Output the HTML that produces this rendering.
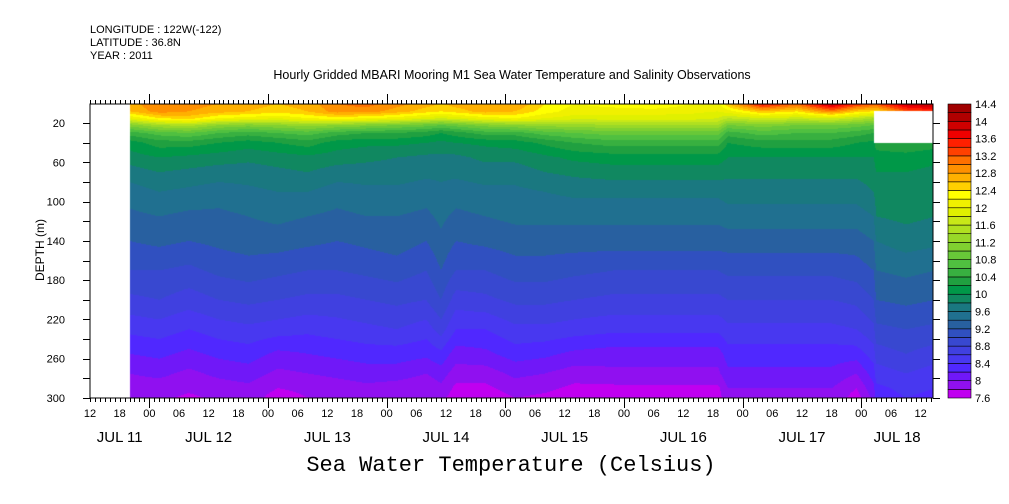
<!DOCTYPE html>
<html><head><meta charset="utf-8">
<style>
body{margin:0;background:#fff;width:1009px;height:504px;overflow:hidden;position:relative;font-family:"Liberation Sans",sans-serif;}
.t{position:absolute;white-space:nowrap;color:#000;}
</style></head><body>
<div class="t" style="left:90px;top:24px;font-size:11px;">LONGITUDE : 122W(-122)</div>
<div class="t" style="left:90px;top:37px;font-size:11px;">LATITUDE : 36.8N</div>
<div class="t" style="left:90px;top:50px;font-size:11px;">YEAR : 2011</div>
<div class="t" style="left:512px;top:68px;font-size:12.5px;transform:translateX(-50%);">Hourly Gridded MBARI Mooring M1 Sea Water Temperature and Salinity Observations</div>
<div class="t" style="left:511px;top:453px;font-size:22px;font-family:'Liberation Mono',monospace;transform:translateX(-50%);">Sea Water Temperature (Celsius)</div>
<div class="t" style="left:40px;top:250px;font-size:12px;transform:translate(-50%,-50%) rotate(-90deg);">DEPTH (m)</div>
<canvas id="cv" width="843" height="294" style="position:absolute;left:90px;top:104px;"></canvas>
<svg id="sv" width="1009" height="504" style="position:absolute;left:0;top:0;"></svg>
<script>
const levelsMin = 7.6, levelStep = 0.2;
const bandColors = ["#c000f0","#9010f0","#7018f8","#5028ff","#4838f0","#4040e0","#3848d0","#3050c0","#2860a0","#207090","#1a7880","#108860","#009848","#20a040","#38b040","#50c040","#68c838","#80d030","#98d828","#b0e020","#c8e818","#e0f000","#f0f000","#ffff00","#ffd000","#ffb000","#ff9000","#ff7000","#ff4000","#ff2000","#f00000","#d00000","#b00000","#a00000"];
const cbarLabels = ["7.6","8","8.4","8.8","9.2","9.6","10","10.4","10.8","11.2","11.6","12","12.4","12.8","13.2","13.6","14","14.4"];
const depths = [0,8,15,22,30,40,55,70,90,115,140,170,200,230,255,275,290,300];
const hours = [20,26,32,38,44,50,56,62,68,74,80,83,86,92,98,104,110,118,126,134,139,141,148,155,162,167,170.5,171,177,183];
const N = NaN;
const temps = [
[12.7,12.6,12.0,11.1,10.5,10.1,9.9,9.7,9.5,9.35,9.2,9.0,8.75,8.45,8.2,8.0,7.9,7.8],
[13.0,12.9,12.4,11.4,10.7,10.3,10.0,9.8,9.6,9.4,9.25,9.0,8.8,8.5,8.25,8.05,7.9,7.85],
[12.9,12.8,12.5,11.5,10.8,10.3,9.95,9.75,9.55,9.35,9.2,8.95,8.7,8.4,8.15,7.95,7.85,7.75],
[12.8,12.7,12.2,11.2,10.6,10.2,9.9,9.7,9.5,9.35,9.25,9.05,8.8,8.5,8.25,8.05,7.9,7.85],
[12.7,12.6,12.1,11.1,10.5,10.1,9.85,9.7,9.55,9.4,9.3,9.1,8.85,8.55,8.3,8.1,7.95,7.9],
[12.6,12.5,12.0,11.2,10.6,10.2,9.9,9.75,9.6,9.45,9.3,9.05,8.8,8.5,8.15,7.95,7.8,7.7],
[12.7,12.6,12.2,11.3,10.7,10.3,9.95,9.8,9.6,9.4,9.25,9.0,8.75,8.45,8.2,8.0,7.85,7.8],
[13.0,12.9,12.3,11.2,10.5,10.1,9.9,9.7,9.5,9.35,9.2,9.0,8.75,8.5,8.25,8.05,7.9,7.85],
[13.1,12.9,12.2,11.1,10.4,10.05,9.85,9.7,9.55,9.4,9.25,9.05,8.8,8.55,8.3,8.1,7.95,7.9],
[12.9,12.7,12.1,11.0,10.4,10.05,9.8,9.7,9.55,9.4,9.3,9.1,8.85,8.6,8.3,8.1,7.9,7.85],
[12.7,12.5,11.9,10.9,10.3,10.0,9.75,9.65,9.5,9.35,9.2,9.0,8.8,8.5,8.25,8.0,7.85,7.8],
[12.6,12.4,11.8,10.8,10.2,9.95,9.75,9.65,9.55,9.45,9.35,9.2,9.0,8.7,8.35,8.1,7.95,7.85],
[12.7,12.5,11.9,10.9,10.3,10.0,9.75,9.65,9.5,9.35,9.2,9.0,8.7,8.4,8.1,7.9,7.75,7.7],
[12.8,12.7,12.1,11.1,10.5,10.05,9.85,9.7,9.55,9.4,9.25,9.0,8.75,8.4,8.15,7.9,7.75,7.65],
[12.8,12.6,12.2,11.2,10.5,10.1,9.85,9.7,9.55,9.45,9.3,9.1,8.85,8.55,8.3,8.05,7.9,7.8],
[12.4,12.3,12.0,11.3,10.7,10.25,9.95,9.8,9.6,9.45,9.3,9.1,8.85,8.55,8.25,8.0,7.85,7.75],
[12.2,12.1,11.9,11.3,10.8,10.4,10.05,9.85,9.65,9.45,9.3,9.05,8.8,8.5,8.15,7.9,7.75,7.65],
[12.3,12.1,11.9,11.4,10.9,10.5,10.1,9.9,9.65,9.45,9.3,9.0,8.75,8.45,8.1,7.95,7.75,7.65],
[12.4,12.1,11.9,11.4,10.9,10.5,10.1,9.9,9.65,9.45,9.3,9.0,8.75,8.45,8.1,7.95,7.75,7.65],
[12.2,12.05,11.9,11.4,10.9,10.5,10.1,9.9,9.65,9.45,9.3,9.0,8.75,8.45,8.1,7.95,7.75,7.65],
[12.1,12.0,11.8,11.4,10.9,10.5,10.1,9.9,9.65,9.45,9.3,9.0,8.75,8.45,8.1,7.95,7.75,7.7],
[12.6,12.1,11.6,11.0,10.5,10.2,10.0,9.85,9.7,9.5,9.3,9.05,8.8,8.55,8.3,8.15,8.0,7.95],
[13.7,12.6,11.8,11.1,10.7,10.3,10.0,9.85,9.7,9.5,9.3,9.05,8.8,8.55,8.3,8.15,8.0,7.95],
[13.2,12.4,11.7,11.0,10.6,10.3,10.0,9.85,9.7,9.5,9.3,9.05,8.8,8.55,8.3,8.15,8.0,7.95],
[14.1,13.0,11.8,11.0,10.6,10.3,10.0,9.85,9.7,9.5,9.3,9.05,8.8,8.55,8.3,8.15,8.0,7.95],
[13.5,12.5,11.6,10.9,10.5,10.2,10.0,9.85,9.7,9.5,9.3,9.1,8.85,8.6,8.3,8.0,7.8,7.7],
[13.3,12.4,11.4,10.8,10.4,10.15,10.0,9.9,9.8,9.6,9.4,9.2,9.0,8.75,8.5,8.3,8.15,8.05],
[13.3,12.4,N,N,N,10.3,10.1,10.0,9.9,9.8,9.6,9.4,9.2,8.95,8.7,8.5,8.35,8.3],
[14.0,13.2,N,N,N,10.4,10.1,10.0,9.95,9.85,9.7,9.45,9.25,9.0,8.8,8.6,8.45,8.4],
[14.2,13.4,N,N,N,10.3,10.05,9.95,9.9,9.8,9.65,9.4,9.2,8.95,8.7,8.5,8.4,8.35]
];
const timeTickLabels = ["12","18","00","06","12","18","00","06","12","18","00","06","12","18","00","06","12","18","00","06","12","18","00","06","12","18","00","06","12"];
const dayLabels = ["JUL 11","JUL 12","JUL 13","JUL 14","JUL 15","JUL 16","JUL 17","JUL 18"];
const depthTicks = [20,60,100,140,180,220,260,300];

const PX0=90, PX1=933, PY0=104, PY1=398, H0=12, H1=182.5, D0=0.5, D1=300;
const xOf = h => PX0 + (h-H0)*(PX1-PX0)/(H1-H0);
const hOf = x => H0 + (x-PX0)*(H1-H0)/(PX1-PX0);
const yOf = d => PY0 + (d-D0)*(PY1-PY0)/(D1-D0);
const dOf = y => D0 + (y-PY0)*(D1-D0)/(PY1-PY0);

function hex(c){return [parseInt(c.substr(1,2),16),parseInt(c.substr(3,2),16),parseInt(c.substr(5,2),16)];}
const rgb = bandColors.map(hex);
function bracket(arr,v){for(let i=0;i<arr.length-1;i++){if(v<=arr[i+1])return i;}return arr.length-2;}

const cv=document.getElementById('cv'),ctx=cv.getContext('2d');
const W=cv.width,Hh=cv.height,img=ctx.createImageData(W,Hh);
for(let py=0;py<Hh;py++){
  const d=Math.max(depths[0],Math.min(D1,dOf(PY0+py+0.5)));
  const j=bracket(depths,d), fy=(d-depths[j])/(depths[j+1]-depths[j]);
  for(let px=0;px<W;px++){
    const h=hOf(PX0+px+0.5); let c=[255,255,255];
    if(h>=hours[0]){
      const hh=Math.min(h,hours[hours.length-1]);
      const i=bracket(hours,hh), fx=(hh-hours[i])/(hours[i+1]-hours[i]);
      const a=temps[i][j],b=temps[i+1][j],e=temps[i][j+1],f=temps[i+1][j+1];
      if(!(isNaN(a)||isNaN(b)||isNaN(e)||isNaN(f))){
        const t=(a*(1-fx)+b*fx)*(1-fy)+(e*(1-fx)+f*fx)*fy;
        let k=Math.floor((t-levelsMin)/levelStep); k=Math.max(0,Math.min(rgb.length-1,k)); c=rgb[k];
      }
    }
    const o=(py*W+px)*4; img.data[o]=c[0];img.data[o+1]=c[1];img.data[o+2]=c[2];img.data[o+3]=255;
  }
}
ctx.putImageData(img,0,0);

const sv=document.getElementById('sv'),NS='http://www.w3.org/2000/svg';
function mk(tag,at,name){const e=document.createElementNS(NS,tag);for(const k in at)e.setAttribute(k,at[k]);


sv.appendChild(e);return e;}
function txt(x,y,s,size,anchor,name){const e=mk('text',{x:x,y:y,'font-size':size,'text-anchor':anchor,'font-family':'Liberation Sans, sans-serif',fill:'#000'},name);e.textContent=s;return e;}
mk('rect',{x:PX0,y:PY0,width:PX1-PX0,height:PY1-PY0,fill:'none',stroke:'#000','stroke-width':1},'plot-frame');
let p='';
for(let h=12;h<=182;h++){const x=Math.round(xOf(h))+0.5;const big=(h%24===0);const L=big?10:4;
  p+=`M${x},${PY0}v${-L}M${x},${PY1}v${L}`;}
for(let d=20;d<=300;d+=20){const y=Math.round(yOf(d))+0.5;p+=`M${PX0},${y}h-7M${PX1},${y}h7`;}
mk('path',{d:p,stroke:'#000','stroke-width':1,fill:'none'},'axis-ticks');
timeTickLabels.forEach((s,i)=>{txt(xOf(12+6*i),417,s,11,'middle','time-tick-label');});
dayLabels.forEach((s,i)=>{const a=Math.max(xOf(24*i),PX0),b=Math.min(xOf(24*(i+1)),PX1);txt((a+b)/2,442,s,15,'middle','day-label');});
depthTicks.forEach(d=>{txt(65,yOf(d)+4,String(d),11,'end','depth-tick-label');});
const CX0=948,CX1=971,CY0=104,CY1=398,bh=(CY1-CY0)/bandColors.length;
bandColors.forEach((c,k)=>{mk('rect',{x:CX0,y:CY1-(k+1)*bh,width:CX1-CX0,height:bh,fill:c,stroke:'#000','stroke-width':0.6},'colorbar-band');});
cbarLabels.forEach((s,i)=>{txt(975,CY1-i*2*bh+4,s,11,'start','colorbar-label');});
</script>
</body></html>
